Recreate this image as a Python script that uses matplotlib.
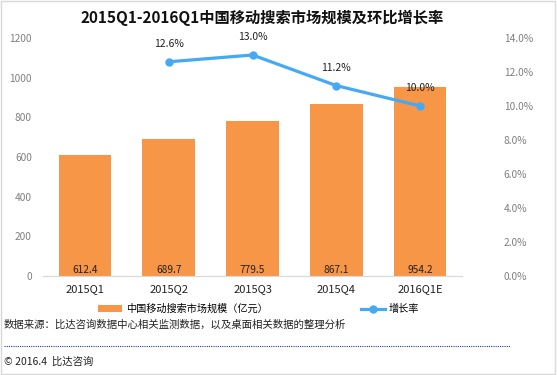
import matplotlib.pyplot as plt
from matplotlib.lines import Line2D
from matplotlib.patches import Rectangle

plt.rcParams['font.family'] = ['Noto Sans CJK SC', 'DejaVu Sans']

quarters = ['2015Q1', '2015Q2', '2015Q3', '2015Q4', '2016Q1E']
market_size = [612.4, 689.7, 779.5, 867.1, 954.2]
growth_quarters = ['2015Q2', '2015Q3', '2015Q4', '2016Q1E']
growth_rate = [12.6, 13.0, 11.2, 10.0]

bar_color = '#f79646'
line_color = '#45a9f3'
tick_color = '#7f7f7f'

fig = plt.figure(figsize=(5.57, 3.75), dpi=100)
ax = fig.add_axes([43 / 557, 1 - 276 / 375, 419 / 557, 238 / 375])
ax2 = ax.twinx()

x = list(range(len(quarters)))
bars = ax.bar(x, market_size, width=0.63, color=bar_color, label='中国移动搜索市场规模（亿元）', zorder=2)
for xi, v in zip(x, market_size):
    ax.text(xi, 30, f'{v:.1f}', ha='center', va='center', fontsize=7.3, color='#222222', zorder=3)

ax.set_xlim(-0.5, len(quarters) - 0.5)
ax.set_ylim(0, 1200)
ax.set_yticks(range(0, 1201, 200))
ax.set_xticks(x)
ax.set_xticklabels(quarters, fontsize=8, color='#222222')
ax.tick_params(axis='y', labelsize=7.3, labelcolor=tick_color, length=0, pad=8)
ax.tick_params(axis='x', length=0, pad=6)

gx = [quarters.index(q) for q in growth_quarters]
ax2.plot(gx, growth_rate, color=line_color, lw=2.3, marker='o', ms=5, label='增长率', zorder=4)
for xi, v in zip(gx, growth_rate):
    ax2.annotate(f'{v:.1f}%', (xi, v), xytext=(0, 13), textcoords='offset points',
                 ha='center', va='center', fontsize=7.5, color='#222222')
ax2.set_ylim(0, 14)
ax2.set_yticks(range(0, 15, 2))
ax2.set_yticklabels([f'{t:.1f}%' for t in range(0, 15, 2)])
ax2.tick_params(axis='y', labelsize=7.3, labelcolor=tick_color, length=0, pad=30)

for a in (ax, ax2):
    for s in ('left', 'right', 'top'):
        a.spines[s].set_visible(False)
    a.spines['bottom'].set_color('#d9d9d9')

fig.text(262 / 557, 1 - 18 / 375, '2015Q1-2016Q1中国移动搜索市场规模及环比增长率',
         ha='center', va='center', fontsize=11, fontweight='bold', color='#111111')

handles = [bars, ax2.get_lines()[0]]
fig.legend(handles, [h.get_label() for h in handles], loc='center left',
           bbox_to_anchor=(98 / 557, 1 - 309 / 375), ncol=2, frameon=False,
           fontsize=7.3, handlelength=2.4, handletextpad=0.35, columnspacing=9.2,
           borderpad=0, borderaxespad=0)

fig.text(4 / 557, 1 - 325 / 375, '数据来源：比达咨询数据中心相关监测数据，以及桌面相关数据的整理分析',
         ha='left', va='center', fontsize=7.5, color='#222222')
fig.add_artist(Line2D([4 / 557, 510 / 557], [1 - 346 / 375] * 2, transform=fig.transFigure,
                      color='#1f3f9a', lw=0.8, ls=(0, (1, 1))))
fig.text(4 / 557, 1 - 362 / 375, '© 2016.4  比达咨询', ha='left', va='center',
         fontsize=7.5, color='#222222')

fig.add_artist(Rectangle((0.002, 0.003), 0.995, 0.994, transform=fig.transFigure,
                         fill=False, edgecolor='#d9d9d9', lw=1))

fig.savefig('out.png', dpi=100)
